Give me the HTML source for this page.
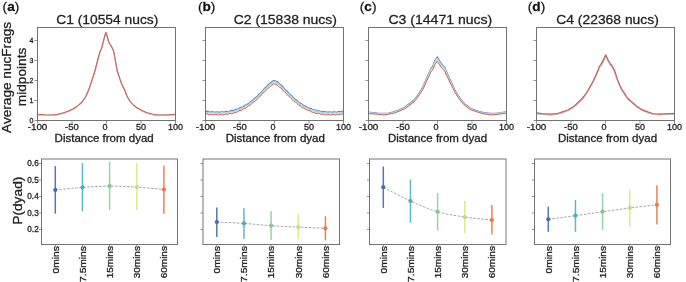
<!DOCTYPE html><html><head><meta charset="utf-8"><style>html,body{margin:0;padding:0;background:#fff;}svg{display:block;will-change:transform}text{stroke:#222;stroke-width:0.28px}</style></head><body>
<svg width="686" height="282" viewBox="0 0 686 282" font-family='"Liberation Sans", sans-serif'>
<rect width="686" height="282" fill="#fff"/>
<text x="2.6" y="10.9" font-size="13.6" fill="#111">(<tspan font-weight="bold">a</tspan>)</text>
<text x="198.0" y="10.9" font-size="13.6" fill="#111">(<tspan font-weight="bold">b</tspan>)</text>
<text x="359.8" y="10.9" font-size="13.6" fill="#111">(<tspan font-weight="bold">c</tspan>)</text>
<text x="527.8" y="10.9" font-size="13.6" fill="#111">(<tspan font-weight="bold">d</tspan>)</text>
<text x="56.3" y="24.1" font-size="12.9" fill="#222" textLength="102.0" lengthAdjust="spacingAndGlyphs">C1 (10554 nucs)</text>
<text x="233.7" y="24.1" font-size="12.9" fill="#222" textLength="103.3" lengthAdjust="spacingAndGlyphs">C2 (15838 nucs)</text>
<text x="388.4" y="24.1" font-size="12.9" fill="#222" textLength="103.9" lengthAdjust="spacingAndGlyphs">C3 (14471 nucs)</text>
<text x="556.3" y="24.1" font-size="12.9" fill="#222" textLength="102.5" lengthAdjust="spacingAndGlyphs">C4 (22368 nucs)</text>
<g fill="none" stroke-linejoin="round">
<polyline points="37.50,114.70 44.00,115.30 50.70,115.50 57.00,115.00 63.60,113.20 68.00,111.70 72.80,109.50 77.00,106.80 82.00,102.50 85.50,97.50 88.60,90.50 92.00,80.50 94.90,71.50 97.90,59.50 99.40,54.50 100.20,51.70 101.80,48.00 103.20,42.30 104.60,37.00 105.80,32.80 107.30,37.00 108.50,41.50 109.50,44.00 110.80,45.70 112.30,48.50 113.30,50.50 114.30,54.50 115.10,59.50 117.30,71.50 120.30,80.50 122.20,85.50 124.70,90.50 127.00,96.50 130.00,101.80 133.50,105.50 137.30,108.30 141.50,110.80 146.50,113.10 152.00,114.60 157.60,115.40 165.00,115.40 175.50,114.70" stroke="#6286c0" stroke-width="1.0"/>
<polyline points="37.50,114.50 44.00,115.10 50.70,115.30 57.00,114.80 63.60,113.00 68.00,111.50 72.80,109.30 77.00,106.60 82.00,102.30 85.50,97.30 88.60,90.30 92.00,80.30 94.90,71.30 97.90,59.30 99.40,54.30 100.20,51.50 101.80,47.80 103.20,42.10 104.60,36.80 105.80,32.60 107.30,36.80 108.50,41.30 109.50,43.80 110.80,45.50 112.30,48.30 113.30,50.30 114.30,54.30 115.10,59.30 117.30,71.30 120.30,80.30 122.20,85.30 124.70,90.30 127.00,96.30 130.00,101.60 133.50,105.30 137.30,108.10 141.50,110.60 146.50,112.90 152.00,114.40 157.60,115.20 165.00,115.20 175.50,114.50" stroke="#a0cce4" stroke-width="1.0"/>
<polyline points="37.50,114.70 44.00,115.30 50.70,115.50 57.00,115.00 63.60,113.20 68.00,111.70 72.80,109.50 77.00,106.80 82.00,102.50 85.50,97.50 88.60,90.50 92.00,80.50 94.90,71.50 97.90,59.50 99.40,54.50 100.20,51.70 101.80,48.00 103.20,42.30 104.60,37.00 105.80,32.80 107.30,37.00 108.50,41.50 109.50,44.00 110.80,45.70 112.30,48.50 113.30,50.50 114.30,54.50 115.10,59.50 117.30,71.50 120.30,80.50 122.20,85.50 124.70,90.50 127.00,96.50 130.00,101.80 133.50,105.50 137.30,108.30 141.50,110.80 146.50,113.10 152.00,114.60 157.60,115.40 165.00,115.40 175.50,114.70" stroke="#c0e0c4" stroke-width="1.0"/>
<polyline points="37.50,114.40 44.00,115.00 50.70,115.20 57.00,114.70 63.60,112.90 68.00,111.40 72.80,109.20 77.00,106.50 82.00,102.20 85.50,97.20 88.60,90.20 92.00,80.20 94.90,71.20 97.90,59.20 99.40,54.20 100.20,51.40 101.80,47.70 103.20,42.00 104.60,36.70 105.80,32.50 107.30,36.70 108.50,41.20 109.50,43.70 110.80,45.40 112.30,48.20 113.30,50.20 114.30,54.20 115.10,59.20 117.30,71.20 120.30,80.20 122.20,85.20 124.70,90.20 127.00,96.20 130.00,101.50 133.50,105.20 137.30,108.00 141.50,110.50 146.50,112.80 152.00,114.30 157.60,115.10 165.00,115.10 175.50,114.40" stroke="#f0e0a8" stroke-width="1.0"/>
<polyline points="37.50,114.20 44.00,114.80 50.70,115.00 57.00,114.50 63.60,112.70 68.00,111.20 72.80,109.00 77.00,106.30 82.00,102.00 85.50,97.00 88.60,90.00 92.00,80.00 94.90,71.00 97.90,59.00 99.40,54.00 100.20,51.20 101.80,47.50 103.20,41.80 104.60,36.50 105.80,32.30 107.30,36.50 108.50,41.00 109.50,43.50 110.80,45.20 112.30,48.00 113.30,50.00 114.30,54.00 115.10,59.00 117.30,71.00 120.30,80.00 122.20,85.00 124.70,90.00 127.00,96.00 130.00,101.30 133.50,105.00 137.30,107.80 141.50,110.30 146.50,112.60 152.00,114.10 157.60,114.90 165.00,114.90 175.50,114.20" stroke="#c86060" stroke-width="1.05"/>
</g>
<rect x="37.5" y="27.5" width="138.00" height="93.00" fill="none" stroke="#727272" stroke-width="1"/>
<line x1="34.5" y1="120.5" x2="37.5" y2="120.5" stroke="#727272" stroke-width="0.8"/>
<text x="33.5" y="122.9" font-size="7" text-anchor="end" fill="#222">0</text>
<line x1="34.5" y1="100.5" x2="37.5" y2="100.5" stroke="#727272" stroke-width="0.8"/>
<text x="33.5" y="102.9" font-size="7" text-anchor="end" fill="#222">1</text>
<line x1="34.5" y1="80.5" x2="37.5" y2="80.5" stroke="#727272" stroke-width="0.8"/>
<text x="33.5" y="82.9" font-size="7" text-anchor="end" fill="#222">2</text>
<line x1="34.5" y1="60.5" x2="37.5" y2="60.5" stroke="#727272" stroke-width="0.8"/>
<text x="33.5" y="62.9" font-size="7" text-anchor="end" fill="#222">3</text>
<line x1="34.5" y1="40.5" x2="37.5" y2="40.5" stroke="#727272" stroke-width="0.8"/>
<text x="33.5" y="42.9" font-size="7" text-anchor="end" fill="#222">4</text>
<line x1="37.5" y1="120.5" x2="37.5" y2="123.5" stroke="#727272" stroke-width="0.8"/>
<text x="37.5" y="130.1" font-size="9" text-anchor="middle" fill="#222" textLength="19.7" lengthAdjust="spacingAndGlyphs">-100</text>
<line x1="72.0" y1="120.5" x2="72.0" y2="123.5" stroke="#727272" stroke-width="0.8"/>
<text x="72.0" y="130.1" font-size="9" text-anchor="middle" fill="#222" textLength="13.8" lengthAdjust="spacingAndGlyphs">-50</text>
<line x1="106.5" y1="120.5" x2="106.5" y2="123.5" stroke="#727272" stroke-width="0.8"/>
<text x="105.0" y="130.1" font-size="9" text-anchor="middle" fill="#222">0</text>
<line x1="141.0" y1="120.5" x2="141.0" y2="123.5" stroke="#727272" stroke-width="0.8"/>
<text x="141.0" y="130.1" font-size="9" text-anchor="middle" fill="#222">50</text>
<line x1="175.5" y1="120.5" x2="175.5" y2="123.5" stroke="#727272" stroke-width="0.8"/>
<text x="175.5" y="130.1" font-size="9" text-anchor="middle" fill="#222">100</text>
<text x="54.6" y="141.7" font-size="10.3" fill="#222" textLength="99.2" lengthAdjust="spacingAndGlyphs">Distance from dyad</text>
<g fill="none" stroke-linejoin="round">
<polyline points="205.50,111.54 207.22,111.12 208.95,111.59 210.68,111.95 212.40,111.49 214.12,112.17 215.85,112.03 217.57,111.75 219.30,112.37 221.03,111.78 222.75,111.81 224.47,112.07 226.20,111.25 227.93,111.48 229.65,111.19 231.38,110.36 233.10,110.58 234.82,109.69 236.55,109.03 238.28,108.94 240.00,107.62 241.72,107.15 243.45,106.48 245.18,104.94 246.90,104.48 248.62,103.11 250.35,101.57 252.07,100.84 253.80,98.85 255.53,97.43 257.25,96.19 258.98,93.85 260.70,92.57 262.43,90.76 264.15,88.49 265.88,87.33 267.60,85.19 269.32,83.48 271.05,82.56 272.77,80.77 274.50,80.44 276.23,81.28 277.95,81.87 279.68,83.91 281.40,85.30 283.12,86.75 284.85,89.16 286.57,90.43 288.30,92.35 290.02,94.49 291.75,95.55 293.48,97.66 295.20,99.17 296.93,100.17 298.65,102.16 300.38,102.99 302.10,104.06 303.82,105.64 305.55,105.96 307.27,107.16 309.00,108.12 310.73,108.25 312.45,109.47 314.18,109.79 315.90,110.00 317.62,111.04 319.35,110.84 321.07,111.27 322.80,111.88 324.52,111.42 326.25,112.05 327.98,112.10 329.70,111.70 331.43,112.34 333.15,111.89 334.88,111.76 336.60,112.18 338.33,111.43 340.05,111.62 341.77,111.61 343.50,110.84" stroke="#6286c0" stroke-width="1.1"/>
<polyline points="205.50,112.34 207.22,112.77 208.95,112.40 210.68,113.50 212.40,112.85 214.12,113.07 215.85,113.35 217.57,112.83 219.30,113.32 221.03,113.40 222.75,112.93 224.47,113.21 226.20,112.79 227.93,112.08 229.65,112.67 231.38,111.52 233.10,111.73 234.82,111.23 236.55,110.25 238.28,109.85 240.00,109.16 241.72,107.95 243.45,107.92 245.18,106.52 246.90,105.45 248.62,104.75 250.35,102.62 252.07,101.92 253.80,100.38 255.53,98.73 257.25,97.50 258.98,95.71 260.70,93.41 262.43,92.39 264.15,89.77 265.88,88.54 267.60,87.04 269.32,84.92 271.05,83.96 272.77,82.50 274.50,81.55 276.23,82.72 277.95,83.68 279.68,85.00 281.40,87.30 283.12,87.99 284.85,90.41 286.57,91.94 288.30,93.56 290.02,95.80 291.75,97.38 293.48,98.65 295.20,100.72 296.93,101.43 298.65,103.00 300.38,104.68 302.10,105.16 303.82,107.01 305.55,107.48 307.27,108.16 309.00,109.21 310.73,109.72 312.45,110.22 314.18,111.55 315.90,111.16 317.62,112.13 319.35,112.28 321.07,112.12 322.80,113.02 324.52,112.91 326.25,113.06 327.98,113.52 329.70,113.06 331.43,113.00 333.15,113.48 334.88,112.61 336.60,113.49 338.33,112.94 340.05,112.68 341.77,112.79 343.50,112.19" stroke="#a0cce4" stroke-width="1.1"/>
<polyline points="205.50,112.75 207.22,113.51 208.95,112.80 210.68,113.63 212.40,113.71 214.12,113.61 215.85,113.96 217.57,113.90 219.30,113.31 221.03,114.08 222.75,113.32 224.47,113.60 226.20,113.73 227.93,112.82 229.65,113.00 231.38,112.38 233.10,111.74 234.82,111.78 236.55,111.13 238.28,110.22 240.00,110.24 241.72,108.43 243.45,108.18 245.18,107.15 246.90,105.90 248.62,105.28 250.35,103.87 252.07,102.15 253.80,101.23 255.53,99.17 257.25,97.71 258.98,96.64 260.70,94.11 262.43,93.08 264.15,90.82 265.88,88.86 267.60,87.49 269.32,85.81 271.05,84.21 272.77,83.80 274.50,82.27 276.23,83.32 277.95,84.45 279.68,85.37 281.40,87.75 283.12,89.14 284.85,90.86 286.57,92.94 288.30,94.28 290.02,95.89 291.75,98.24 293.48,99.03 295.20,101.43 296.93,102.47 298.65,103.53 300.38,105.12 302.10,105.91 303.82,106.95 305.55,108.49 307.27,108.80 309.00,109.79 310.73,110.65 312.45,110.44 314.18,111.88 315.90,111.88 317.62,112.48 319.35,113.14 321.07,113.05 322.80,113.12 324.52,113.78 326.25,113.16 327.98,114.02 329.70,113.96 331.43,113.57 333.15,114.13 334.88,113.39 336.60,113.44 338.33,113.65 340.05,113.22 341.77,113.22 343.50,113.38" stroke="#c0e0c4" stroke-width="0.8"/>
<polyline points="205.50,113.27 207.22,113.95 208.95,113.89 210.68,113.63 212.40,114.26 214.12,113.99 215.85,114.09 217.57,114.81 219.30,113.89 221.03,114.51 222.75,114.03 224.47,113.70 226.20,113.96 227.93,113.69 229.65,113.14 231.38,113.45 233.10,112.19 234.82,111.99 236.55,111.66 238.28,110.49 240.00,110.62 241.72,109.48 243.45,108.49 245.18,107.80 246.90,106.45 248.62,105.18 250.35,104.73 252.07,102.57 253.80,101.89 255.53,100.06 257.25,98.07 258.98,96.89 260.70,94.87 262.43,93.13 264.15,91.88 265.88,89.59 267.60,87.92 269.32,86.65 271.05,84.39 272.77,84.21 274.50,83.14 276.23,83.84 277.95,85.26 279.68,86.28 281.40,87.71 283.12,89.98 284.85,91.09 286.57,93.51 288.30,95.27 290.02,96.40 291.75,98.73 293.48,99.68 295.20,101.39 296.93,103.18 298.65,104.24 300.38,105.48 302.10,106.99 303.82,107.07 305.55,108.85 307.27,109.31 309.00,110.08 310.73,111.32 312.45,111.40 314.18,111.98 315.90,112.68 317.62,112.59 319.35,113.35 321.07,113.93 322.80,113.48 324.52,114.52 326.25,113.82 327.98,114.07 329.70,114.38 331.43,114.12 333.15,114.29 334.88,114.58 336.60,113.71 338.33,114.15 340.05,113.72 341.77,113.28 343.50,113.92" stroke="#f0e0a8" stroke-width="0.8"/>
<polyline points="205.50,113.90 207.22,113.93 208.95,114.92 210.68,114.21 212.40,114.89 214.12,114.78 215.85,114.37 217.57,115.03 219.30,114.76 221.03,114.72 222.75,115.06 224.47,114.44 226.20,114.17 227.93,114.44 229.65,113.32 231.38,113.94 233.10,113.14 234.82,112.55 236.55,112.29 238.28,111.30 240.00,110.50 241.72,110.36 243.45,108.93 245.18,108.45 246.90,107.50 248.62,105.62 250.35,105.15 252.07,103.27 253.80,102.06 255.53,100.93 257.25,99.04 258.98,97.27 260.70,95.98 262.43,93.32 264.15,92.37 265.88,90.40 267.60,88.54 269.32,87.52 271.05,85.49 272.77,84.39 274.50,84.02 276.23,84.28 277.95,85.73 279.68,87.51 281.40,88.27 283.12,90.79 284.85,91.81 286.57,93.72 288.30,95.88 290.02,97.30 291.75,99.10 293.48,100.97 295.20,101.72 296.93,103.62 298.65,104.89 300.38,105.74 302.10,107.77 303.82,108.05 305.55,109.23 307.27,110.11 309.00,110.50 310.73,111.39 312.45,112.43 314.18,112.29 315.90,113.59 317.62,113.37 319.35,113.60 321.07,114.39 322.80,114.07 324.52,114.71 326.25,114.98 327.98,114.60 329.70,114.88 331.43,114.90 333.15,114.27 334.88,115.23 336.60,114.42 338.33,114.67 340.05,114.61 341.77,113.90 343.50,113.95" stroke="#c86060" stroke-width="1.0"/>
</g>
<rect x="205.5" y="27.5" width="138.00" height="93.00" fill="none" stroke="#727272" stroke-width="1"/>
<line x1="202.5" y1="120.5" x2="205.5" y2="120.5" stroke="#727272" stroke-width="0.8"/>
<line x1="202.5" y1="100.5" x2="205.5" y2="100.5" stroke="#727272" stroke-width="0.8"/>
<line x1="202.5" y1="80.5" x2="205.5" y2="80.5" stroke="#727272" stroke-width="0.8"/>
<line x1="202.5" y1="60.5" x2="205.5" y2="60.5" stroke="#727272" stroke-width="0.8"/>
<line x1="202.5" y1="40.5" x2="205.5" y2="40.5" stroke="#727272" stroke-width="0.8"/>
<line x1="205.5" y1="120.5" x2="205.5" y2="123.5" stroke="#727272" stroke-width="0.8"/>
<text x="205.5" y="130.1" font-size="9" text-anchor="middle" fill="#222" textLength="19.7" lengthAdjust="spacingAndGlyphs">-100</text>
<line x1="240.0" y1="120.5" x2="240.0" y2="123.5" stroke="#727272" stroke-width="0.8"/>
<text x="240.0" y="130.1" font-size="9" text-anchor="middle" fill="#222" textLength="13.8" lengthAdjust="spacingAndGlyphs">-50</text>
<line x1="274.5" y1="120.5" x2="274.5" y2="123.5" stroke="#727272" stroke-width="0.8"/>
<text x="273.0" y="130.1" font-size="9" text-anchor="middle" fill="#222">0</text>
<line x1="309.0" y1="120.5" x2="309.0" y2="123.5" stroke="#727272" stroke-width="0.8"/>
<text x="309.0" y="130.1" font-size="9" text-anchor="middle" fill="#222">50</text>
<line x1="343.5" y1="120.5" x2="343.5" y2="123.5" stroke="#727272" stroke-width="0.8"/>
<text x="343.5" y="130.1" font-size="9" text-anchor="middle" fill="#222">100</text>
<text x="225.7" y="141.7" font-size="10.3" fill="#222" textLength="99.2" lengthAdjust="spacingAndGlyphs">Distance from dyad</text>
<g fill="none" stroke-linejoin="round">
<polyline points="368.50,112.10 377.40,113.00 383.00,113.30 388.70,113.00 394.40,111.60 400.00,109.50 405.70,106.50 411.00,102.30 414.00,100.00 417.80,95.00 421.00,90.00 423.60,85.00 425.70,80.00 427.90,75.00 430.00,70.50 431.20,67.60 432.40,66.80 433.40,64.50 434.80,60.50 437.30,56.80 439.50,60.50 441.50,63.80 443.00,65.60 444.80,67.30 445.80,70.00 448.10,75.00 450.30,80.00 452.80,85.00 455.00,90.00 458.00,95.00 461.50,100.00 465.50,104.50 470.20,108.00 477.00,110.70 483.70,112.60 490.50,113.40 497.20,113.00 506.50,111.70" stroke="#6286c0" stroke-width="1.1"/>
<polyline points="368.50,112.45 377.40,113.50 383.00,113.63 388.70,113.57 394.40,111.81 400.00,109.91 405.70,106.91 411.00,103.01 414.00,100.64 417.80,95.81 421.00,90.79 423.60,85.74 425.70,81.08 427.90,75.92 430.00,71.52 431.20,68.55 432.40,67.87 433.40,65.75 434.80,61.40 437.30,58.08 439.50,61.81 441.50,64.89 443.00,66.61 444.80,68.22 445.80,70.98 448.10,76.09 450.30,80.86 452.80,85.53 455.00,90.74 458.00,95.82 461.50,100.59 465.50,105.08 470.20,108.66 477.00,111.15 483.70,112.98 490.50,113.76 497.20,113.14 506.50,112.34" stroke="#a0cce4" stroke-width="1.0"/>
<polyline points="368.50,112.89 377.40,113.66 383.00,113.87 388.70,113.78 394.40,112.49 400.00,110.25 405.70,107.35 411.00,103.35 414.00,101.13 417.80,96.21 421.00,91.60 423.60,86.34 425.70,81.54 427.90,76.74 430.00,72.17 431.20,69.66 432.40,68.94 433.40,66.53 434.80,62.76 437.30,59.06 439.50,62.86 441.50,65.78 443.00,67.90 444.80,69.24 445.80,71.80 448.10,76.61 450.30,81.65 452.80,86.40 455.00,91.51 458.00,96.29 461.50,101.31 465.50,105.71 470.20,108.72 477.00,111.56 483.70,113.57 490.50,114.03 497.20,113.54 506.50,112.53" stroke="#c0e0c4" stroke-width="0.8"/>
<polyline points="368.50,113.13 377.40,114.00 383.00,114.30 388.70,113.74 394.40,112.74 400.00,110.58 405.70,107.96 411.00,103.44 414.00,101.62 417.80,96.73 421.00,91.88 423.60,87.13 425.70,82.15 427.90,77.68 430.00,73.10 431.20,70.38 432.40,69.75 433.40,67.13 434.80,63.67 437.30,59.74 439.50,63.53 441.50,66.54 443.00,68.56 444.80,70.01 445.80,72.69 448.10,77.36 450.30,82.50 452.80,87.17 455.00,91.85 458.00,96.72 461.50,101.52 465.50,105.80 470.20,108.99 477.00,111.85 483.70,113.64 490.50,114.47 497.20,114.10 506.50,112.61" stroke="#f0e0a8" stroke-width="0.8"/>
<polyline points="368.50,113.65 377.40,114.18 383.00,114.86 388.70,114.21 394.40,113.02 400.00,110.80 405.70,108.29 411.00,104.09 414.00,101.86 417.80,97.20 421.00,92.48 423.60,88.07 425.70,83.04 427.90,78.49 430.00,74.10 431.20,71.48 432.40,70.38 433.40,68.37 434.80,64.64 437.30,61.08 439.50,64.64 441.50,67.88 443.00,69.33 444.80,70.91 445.80,73.87 448.10,78.32 450.30,83.14 452.80,87.81 455.00,92.26 458.00,97.34 461.50,101.98 465.50,106.14 470.20,109.58 477.00,111.91 483.70,113.87 490.50,114.93 497.20,114.38 506.50,113.05" stroke="#c86060" stroke-width="1.0"/>
</g>
<rect x="368.5" y="27.5" width="138.00" height="93.00" fill="none" stroke="#727272" stroke-width="1"/>
<line x1="365.5" y1="120.5" x2="368.5" y2="120.5" stroke="#727272" stroke-width="0.8"/>
<line x1="365.5" y1="100.5" x2="368.5" y2="100.5" stroke="#727272" stroke-width="0.8"/>
<line x1="365.5" y1="80.5" x2="368.5" y2="80.5" stroke="#727272" stroke-width="0.8"/>
<line x1="365.5" y1="60.5" x2="368.5" y2="60.5" stroke="#727272" stroke-width="0.8"/>
<line x1="365.5" y1="40.5" x2="368.5" y2="40.5" stroke="#727272" stroke-width="0.8"/>
<line x1="368.5" y1="120.5" x2="368.5" y2="123.5" stroke="#727272" stroke-width="0.8"/>
<text x="368.5" y="130.1" font-size="9" text-anchor="middle" fill="#222" textLength="19.7" lengthAdjust="spacingAndGlyphs">-100</text>
<line x1="403.0" y1="120.5" x2="403.0" y2="123.5" stroke="#727272" stroke-width="0.8"/>
<text x="403.0" y="130.1" font-size="9" text-anchor="middle" fill="#222" textLength="13.8" lengthAdjust="spacingAndGlyphs">-50</text>
<line x1="437.5" y1="120.5" x2="437.5" y2="123.5" stroke="#727272" stroke-width="0.8"/>
<text x="436.0" y="130.1" font-size="9" text-anchor="middle" fill="#222">0</text>
<line x1="472.0" y1="120.5" x2="472.0" y2="123.5" stroke="#727272" stroke-width="0.8"/>
<text x="472.0" y="130.1" font-size="9" text-anchor="middle" fill="#222">50</text>
<line x1="506.5" y1="120.5" x2="506.5" y2="123.5" stroke="#727272" stroke-width="0.8"/>
<text x="506.5" y="130.1" font-size="9" text-anchor="middle" fill="#222">100</text>
<text x="387.9" y="141.7" font-size="10.3" fill="#222" textLength="99.2" lengthAdjust="spacingAndGlyphs">Distance from dyad</text>
<g fill="none" stroke-linejoin="round">
<polyline points="536.50,113.65 545.40,114.44 551.00,114.83 556.70,114.24 562.40,112.77 568.00,110.61 573.70,107.28 577.00,104.34 580.50,101.40 584.00,97.28 588.00,91.40 593.60,81.30 598.00,71.50 599.40,67.78 600.80,66.21 603.40,61.70 605.70,56.60 608.30,61.70 610.30,65.23 611.80,66.80 614.40,71.50 617.70,81.30 620.00,86.70 622.50,91.40 625.00,95.32 628.00,99.44 630.70,101.69 636.40,106.69 642.00,110.22 647.70,112.77 653.40,114.44 659.00,114.73 664.70,114.44 674.50,113.95" stroke="#6286c0" stroke-width="1.0"/>
<polyline points="536.50,113.66 545.40,114.21 551.00,114.95 556.70,113.94 562.40,112.64 568.00,110.29 573.70,107.30 577.00,104.30 580.50,101.23 584.00,97.23 588.00,91.36 593.60,80.98 598.00,71.22 599.40,67.59 600.80,65.58 603.40,61.41 605.70,56.34 608.30,61.21 610.30,65.06 611.80,66.41 614.40,71.30 617.70,81.22 620.00,86.47 622.50,91.12 625.00,95.14 628.00,99.40 630.70,101.36 636.40,106.75 642.00,110.00 647.70,112.63 653.40,114.13 659.00,114.66 664.70,114.42 674.50,113.75" stroke="#a0cce4" stroke-width="1.0"/>
<polyline points="536.50,113.49 545.40,113.94 551.00,114.65 556.70,114.02 562.40,112.57 568.00,110.21 573.70,106.79 577.00,104.14 580.50,101.14 584.00,96.86 588.00,90.87 593.60,80.65 598.00,70.83 599.40,67.17 600.80,65.43 603.40,60.97 605.70,55.96 608.30,60.74 610.30,64.44 611.80,65.97 614.40,70.67 617.70,80.85 620.00,86.20 622.50,90.64 625.00,94.94 628.00,99.19 630.70,101.15 636.40,106.25 642.00,110.00 647.70,112.53 653.40,114.25 659.00,114.23 664.70,114.22 674.50,113.58" stroke="#c0e0c4" stroke-width="1.0"/>
<polyline points="536.50,112.97 545.40,114.05 551.00,114.21 556.70,113.78 562.40,112.22 568.00,110.34 573.70,106.58 577.00,103.56 580.50,100.80 584.00,96.65 588.00,90.59 593.60,80.33 598.00,70.56 599.40,66.40 600.80,65.16 603.40,60.22 605.70,55.30 608.30,60.58 610.30,64.01 611.80,65.54 614.40,70.33 617.70,80.15 620.00,85.88 622.50,90.58 625.00,94.62 628.00,98.74 630.70,101.24 636.40,105.95 642.00,109.72 647.70,112.13 653.40,114.23 659.00,114.19 664.70,114.04 674.50,113.33" stroke="#f0e0a8" stroke-width="1.0"/>
<polyline points="536.50,112.83 545.40,114.03 551.00,114.14 556.70,113.70 562.40,111.84 568.00,110.03 573.70,106.49 577.00,103.32 580.50,100.25 584.00,96.25 588.00,90.23 593.60,80.24 598.00,70.17 599.40,66.07 600.80,64.63 603.40,59.89 605.70,54.86 608.30,60.22 610.30,63.53 611.80,65.41 614.40,69.96 617.70,79.88 620.00,85.70 622.50,90.43 625.00,94.06 628.00,98.53 630.70,100.99 636.40,105.89 642.00,109.65 647.70,111.89 653.40,113.77 659.00,114.11 664.70,113.94 674.50,113.45" stroke="#c86060" stroke-width="1.2"/>
</g>
<rect x="536.5" y="27.5" width="138.00" height="93.00" fill="none" stroke="#727272" stroke-width="1"/>
<line x1="533.5" y1="120.5" x2="536.5" y2="120.5" stroke="#727272" stroke-width="0.8"/>
<line x1="533.5" y1="100.5" x2="536.5" y2="100.5" stroke="#727272" stroke-width="0.8"/>
<line x1="533.5" y1="80.5" x2="536.5" y2="80.5" stroke="#727272" stroke-width="0.8"/>
<line x1="533.5" y1="60.5" x2="536.5" y2="60.5" stroke="#727272" stroke-width="0.8"/>
<line x1="533.5" y1="40.5" x2="536.5" y2="40.5" stroke="#727272" stroke-width="0.8"/>
<line x1="536.5" y1="120.5" x2="536.5" y2="123.5" stroke="#727272" stroke-width="0.8"/>
<text x="536.5" y="130.1" font-size="9" text-anchor="middle" fill="#222" textLength="19.7" lengthAdjust="spacingAndGlyphs">-100</text>
<line x1="571.0" y1="120.5" x2="571.0" y2="123.5" stroke="#727272" stroke-width="0.8"/>
<text x="571.0" y="130.1" font-size="9" text-anchor="middle" fill="#222" textLength="13.8" lengthAdjust="spacingAndGlyphs">-50</text>
<line x1="605.5" y1="120.5" x2="605.5" y2="123.5" stroke="#727272" stroke-width="0.8"/>
<text x="604.0" y="130.1" font-size="9" text-anchor="middle" fill="#222">0</text>
<line x1="640.0" y1="120.5" x2="640.0" y2="123.5" stroke="#727272" stroke-width="0.8"/>
<text x="640.0" y="130.1" font-size="9" text-anchor="middle" fill="#222">50</text>
<line x1="674.5" y1="120.5" x2="674.5" y2="123.5" stroke="#727272" stroke-width="0.8"/>
<text x="674.5" y="130.1" font-size="9" text-anchor="middle" fill="#222">100</text>
<text x="557.9" y="141.7" font-size="10.3" fill="#222" textLength="99.2" lengthAdjust="spacingAndGlyphs">Distance from dyad</text>
<text transform="translate(11,132.9) rotate(-90)" font-size="13.2" fill="#222" textLength="111" lengthAdjust="spacingAndGlyphs">Average nucFrags</text>
<text transform="translate(26.1,106.2) rotate(-90)" font-size="13.2" fill="#222" textLength="58.5" lengthAdjust="spacingAndGlyphs">midpoints</text>
<text transform="translate(22.3,224.8) rotate(-90)" font-size="13.2" fill="#222" textLength="48.2" lengthAdjust="spacingAndGlyphs">P(dyad)</text>
<path d="M55.30,189.90 C64.35,189.07 73.40,188.03 82.45,187.40 C91.50,186.77 100.55,186.15 109.60,186.10 C118.65,186.05 127.70,186.53 136.75,187.10 C145.80,187.67 154.85,188.70 163.90,189.50" fill="none" stroke="#8a8888" stroke-width="0.75" stroke-dasharray="2.6,1.4"/>
<line x1="55.30" y1="166.1" x2="55.30" y2="213.7" stroke="#5478b4" stroke-width="1.5"/>
<circle cx="55.30" cy="189.9" r="2.1" fill="#4a6cb0"/>
<line x1="82.45" y1="163.1" x2="82.45" y2="211.2" stroke="#5cb8c8" stroke-width="1.5"/>
<circle cx="82.45" cy="187.4" r="2.1" fill="#50aabb"/>
<line x1="109.60" y1="161.8" x2="109.60" y2="210.1" stroke="#98d4a0" stroke-width="1.5"/>
<circle cx="109.60" cy="186.1" r="2.1" fill="#88c498"/>
<line x1="136.75" y1="163.3" x2="136.75" y2="210.1" stroke="#dde890" stroke-width="1.5"/>
<circle cx="136.75" cy="187.1" r="2.1" fill="#c8d880"/>
<line x1="163.90" y1="165.4" x2="163.90" y2="213.7" stroke="#ee8050" stroke-width="1.5"/>
<circle cx="163.90" cy="189.5" r="2.1" fill="#e87848"/>
<rect x="41.5" y="159.0" width="136.00" height="85.50" fill="none" stroke="#747474" stroke-width="1.0"/>
<line x1="39.0" y1="229.50" x2="41.5" y2="229.50" stroke="#727272" stroke-width="0.8"/>
<text x="38.7" y="232.40" font-size="8.2" text-anchor="end" fill="#222">0.2</text>
<line x1="39.0" y1="213.00" x2="41.5" y2="213.00" stroke="#727272" stroke-width="0.8"/>
<text x="38.7" y="215.90" font-size="8.2" text-anchor="end" fill="#222">0.3</text>
<line x1="39.0" y1="196.50" x2="41.5" y2="196.50" stroke="#727272" stroke-width="0.8"/>
<text x="38.7" y="199.40" font-size="8.2" text-anchor="end" fill="#222">0.4</text>
<line x1="39.0" y1="180.00" x2="41.5" y2="180.00" stroke="#727272" stroke-width="0.8"/>
<text x="38.7" y="182.90" font-size="8.2" text-anchor="end" fill="#222">0.5</text>
<line x1="39.0" y1="163.50" x2="41.5" y2="163.50" stroke="#727272" stroke-width="0.8"/>
<text x="38.7" y="166.40" font-size="8.2" text-anchor="end" fill="#222">0.6</text>
<line x1="55.30" y1="244.5" x2="55.30" y2="247.0" stroke="#727272" stroke-width="0.8"/>
<text transform="translate(58.60,246.1) rotate(-90)" font-size="9" text-anchor="end" fill="#222" textLength="27.3" lengthAdjust="spacingAndGlyphs">0mins</text>
<line x1="82.45" y1="244.5" x2="82.45" y2="247.0" stroke="#727272" stroke-width="0.8"/>
<text transform="translate(85.75,246.1) rotate(-90)" font-size="9" text-anchor="end" fill="#222" textLength="35.8" lengthAdjust="spacingAndGlyphs">7.5mins</text>
<line x1="109.60" y1="244.5" x2="109.60" y2="247.0" stroke="#727272" stroke-width="0.8"/>
<text transform="translate(112.90,246.1) rotate(-90)" font-size="9" text-anchor="end" fill="#222" textLength="32.2" lengthAdjust="spacingAndGlyphs">15mins</text>
<line x1="136.75" y1="244.5" x2="136.75" y2="247.0" stroke="#727272" stroke-width="0.8"/>
<text transform="translate(140.05,246.1) rotate(-90)" font-size="9" text-anchor="end" fill="#222" textLength="32.2" lengthAdjust="spacingAndGlyphs">30mins</text>
<line x1="163.90" y1="244.5" x2="163.90" y2="247.0" stroke="#727272" stroke-width="0.8"/>
<text transform="translate(167.20,246.1) rotate(-90)" font-size="9" text-anchor="end" fill="#222" textLength="32.2" lengthAdjust="spacingAndGlyphs">60mins</text>
<path d="M216.80,222.10 C225.85,222.53 234.90,222.80 243.95,223.40 C253.00,224.00 262.05,225.08 271.10,225.70 C280.15,226.32 289.20,226.67 298.25,227.10 C307.30,227.53 316.35,227.90 325.40,228.30" fill="none" stroke="#8a8888" stroke-width="0.75" stroke-dasharray="2.6,1.4"/>
<line x1="216.80" y1="207.4" x2="216.80" y2="237.0" stroke="#5478b4" stroke-width="1.5"/>
<circle cx="216.80" cy="222.1" r="2.1" fill="#4a6cb0"/>
<line x1="243.95" y1="208.3" x2="243.95" y2="238.8" stroke="#5cb8c8" stroke-width="1.5"/>
<circle cx="243.95" cy="223.4" r="2.1" fill="#50aabb"/>
<line x1="271.10" y1="211.3" x2="271.10" y2="239.9" stroke="#98d4a0" stroke-width="1.5"/>
<circle cx="271.10" cy="225.7" r="2.1" fill="#88c498"/>
<line x1="298.25" y1="213.6" x2="298.25" y2="239.3" stroke="#dde890" stroke-width="1.5"/>
<circle cx="298.25" cy="227.1" r="2.1" fill="#c8d880"/>
<line x1="325.40" y1="216.3" x2="325.40" y2="240.2" stroke="#ee8050" stroke-width="1.5"/>
<circle cx="325.40" cy="228.3" r="2.1" fill="#e87848"/>
<rect x="203.0" y="159.0" width="136.50" height="85.50" fill="none" stroke="#747474" stroke-width="1.0"/>
<line x1="200.5" y1="229.50" x2="203.0" y2="229.50" stroke="#727272" stroke-width="0.8"/>
<line x1="200.5" y1="213.00" x2="203.0" y2="213.00" stroke="#727272" stroke-width="0.8"/>
<line x1="200.5" y1="196.50" x2="203.0" y2="196.50" stroke="#727272" stroke-width="0.8"/>
<line x1="200.5" y1="180.00" x2="203.0" y2="180.00" stroke="#727272" stroke-width="0.8"/>
<line x1="200.5" y1="163.50" x2="203.0" y2="163.50" stroke="#727272" stroke-width="0.8"/>
<line x1="216.80" y1="244.5" x2="216.80" y2="247.0" stroke="#727272" stroke-width="0.8"/>
<text transform="translate(220.10,246.1) rotate(-90)" font-size="9" text-anchor="end" fill="#222" textLength="27.3" lengthAdjust="spacingAndGlyphs">0mins</text>
<line x1="243.95" y1="244.5" x2="243.95" y2="247.0" stroke="#727272" stroke-width="0.8"/>
<text transform="translate(247.25,246.1) rotate(-90)" font-size="9" text-anchor="end" fill="#222" textLength="35.8" lengthAdjust="spacingAndGlyphs">7.5mins</text>
<line x1="271.10" y1="244.5" x2="271.10" y2="247.0" stroke="#727272" stroke-width="0.8"/>
<text transform="translate(274.40,246.1) rotate(-90)" font-size="9" text-anchor="end" fill="#222" textLength="32.2" lengthAdjust="spacingAndGlyphs">15mins</text>
<line x1="298.25" y1="244.5" x2="298.25" y2="247.0" stroke="#727272" stroke-width="0.8"/>
<text transform="translate(301.55,246.1) rotate(-90)" font-size="9" text-anchor="end" fill="#222" textLength="32.2" lengthAdjust="spacingAndGlyphs">30mins</text>
<line x1="325.40" y1="244.5" x2="325.40" y2="247.0" stroke="#727272" stroke-width="0.8"/>
<text transform="translate(328.70,246.1) rotate(-90)" font-size="9" text-anchor="end" fill="#222" textLength="32.2" lengthAdjust="spacingAndGlyphs">60mins</text>
<path d="M383.30,187.20 C392.35,191.80 401.40,196.90 410.45,201.00 C419.50,205.10 428.55,209.13 437.60,211.80 C446.65,214.47 455.70,215.63 464.75,217.00 C473.80,218.37 482.85,219.00 491.90,220.00" fill="none" stroke="#8a8888" stroke-width="0.75" stroke-dasharray="2.6,1.4"/>
<line x1="383.30" y1="166.5" x2="383.30" y2="207.9" stroke="#5478b4" stroke-width="1.5"/>
<circle cx="383.30" cy="187.2" r="2.1" fill="#4a6cb0"/>
<line x1="410.45" y1="179.6" x2="410.45" y2="222.7" stroke="#5cb8c8" stroke-width="1.5"/>
<circle cx="410.45" cy="201.0" r="2.1" fill="#50aabb"/>
<line x1="437.60" y1="193.2" x2="437.60" y2="230.5" stroke="#98d4a0" stroke-width="1.5"/>
<circle cx="437.60" cy="211.8" r="2.1" fill="#88c498"/>
<line x1="464.75" y1="201.1" x2="464.75" y2="233.0" stroke="#dde890" stroke-width="1.5"/>
<circle cx="464.75" cy="217.0" r="2.1" fill="#c8d880"/>
<line x1="491.90" y1="205.0" x2="491.90" y2="234.5" stroke="#ee8050" stroke-width="1.5"/>
<circle cx="491.90" cy="220.0" r="2.1" fill="#e87848"/>
<rect x="369.5" y="159.0" width="136.50" height="85.50" fill="none" stroke="#747474" stroke-width="1.0"/>
<line x1="367.0" y1="229.50" x2="369.5" y2="229.50" stroke="#727272" stroke-width="0.8"/>
<line x1="367.0" y1="213.00" x2="369.5" y2="213.00" stroke="#727272" stroke-width="0.8"/>
<line x1="367.0" y1="196.50" x2="369.5" y2="196.50" stroke="#727272" stroke-width="0.8"/>
<line x1="367.0" y1="180.00" x2="369.5" y2="180.00" stroke="#727272" stroke-width="0.8"/>
<line x1="367.0" y1="163.50" x2="369.5" y2="163.50" stroke="#727272" stroke-width="0.8"/>
<line x1="383.30" y1="244.5" x2="383.30" y2="247.0" stroke="#727272" stroke-width="0.8"/>
<text transform="translate(386.60,246.1) rotate(-90)" font-size="9" text-anchor="end" fill="#222" textLength="27.3" lengthAdjust="spacingAndGlyphs">0mins</text>
<line x1="410.45" y1="244.5" x2="410.45" y2="247.0" stroke="#727272" stroke-width="0.8"/>
<text transform="translate(413.75,246.1) rotate(-90)" font-size="9" text-anchor="end" fill="#222" textLength="35.8" lengthAdjust="spacingAndGlyphs">7.5mins</text>
<line x1="437.60" y1="244.5" x2="437.60" y2="247.0" stroke="#727272" stroke-width="0.8"/>
<text transform="translate(440.90,246.1) rotate(-90)" font-size="9" text-anchor="end" fill="#222" textLength="32.2" lengthAdjust="spacingAndGlyphs">15mins</text>
<line x1="464.75" y1="244.5" x2="464.75" y2="247.0" stroke="#727272" stroke-width="0.8"/>
<text transform="translate(468.05,246.1) rotate(-90)" font-size="9" text-anchor="end" fill="#222" textLength="32.2" lengthAdjust="spacingAndGlyphs">30mins</text>
<line x1="491.90" y1="244.5" x2="491.90" y2="247.0" stroke="#727272" stroke-width="0.8"/>
<text transform="translate(495.20,246.1) rotate(-90)" font-size="9" text-anchor="end" fill="#222" textLength="32.2" lengthAdjust="spacingAndGlyphs">60mins</text>
<path d="M548.30,219.30 C557.35,218.10 566.40,216.97 575.45,215.70 C584.50,214.43 593.55,212.98 602.60,211.70 C611.65,210.42 620.70,209.15 629.75,208.00 C638.80,206.85 647.85,205.87 656.90,204.80" fill="none" stroke="#8a8888" stroke-width="0.75" stroke-dasharray="2.6,1.4"/>
<line x1="548.30" y1="206.6" x2="548.30" y2="231.8" stroke="#5478b4" stroke-width="1.5"/>
<circle cx="548.30" cy="219.3" r="2.1" fill="#4a6cb0"/>
<line x1="575.45" y1="200.0" x2="575.45" y2="231.8" stroke="#5cb8c8" stroke-width="1.5"/>
<circle cx="575.45" cy="215.7" r="2.1" fill="#50aabb"/>
<line x1="602.60" y1="193.3" x2="602.60" y2="230.0" stroke="#98d4a0" stroke-width="1.5"/>
<circle cx="602.60" cy="211.7" r="2.1" fill="#88c498"/>
<line x1="629.75" y1="189.2" x2="629.75" y2="227.1" stroke="#dde890" stroke-width="1.5"/>
<circle cx="629.75" cy="208.0" r="2.1" fill="#c8d880"/>
<line x1="656.90" y1="185.3" x2="656.90" y2="224.4" stroke="#ee8050" stroke-width="1.5"/>
<circle cx="656.90" cy="204.8" r="2.1" fill="#e87848"/>
<rect x="534.5" y="159.0" width="136.00" height="85.50" fill="none" stroke="#747474" stroke-width="1.0"/>
<line x1="532.0" y1="229.50" x2="534.5" y2="229.50" stroke="#727272" stroke-width="0.8"/>
<line x1="532.0" y1="213.00" x2="534.5" y2="213.00" stroke="#727272" stroke-width="0.8"/>
<line x1="532.0" y1="196.50" x2="534.5" y2="196.50" stroke="#727272" stroke-width="0.8"/>
<line x1="532.0" y1="180.00" x2="534.5" y2="180.00" stroke="#727272" stroke-width="0.8"/>
<line x1="532.0" y1="163.50" x2="534.5" y2="163.50" stroke="#727272" stroke-width="0.8"/>
<line x1="548.30" y1="244.5" x2="548.30" y2="247.0" stroke="#727272" stroke-width="0.8"/>
<text transform="translate(551.60,246.1) rotate(-90)" font-size="9" text-anchor="end" fill="#222" textLength="27.3" lengthAdjust="spacingAndGlyphs">0mins</text>
<line x1="575.45" y1="244.5" x2="575.45" y2="247.0" stroke="#727272" stroke-width="0.8"/>
<text transform="translate(578.75,246.1) rotate(-90)" font-size="9" text-anchor="end" fill="#222" textLength="35.8" lengthAdjust="spacingAndGlyphs">7.5mins</text>
<line x1="602.60" y1="244.5" x2="602.60" y2="247.0" stroke="#727272" stroke-width="0.8"/>
<text transform="translate(605.90,246.1) rotate(-90)" font-size="9" text-anchor="end" fill="#222" textLength="32.2" lengthAdjust="spacingAndGlyphs">15mins</text>
<line x1="629.75" y1="244.5" x2="629.75" y2="247.0" stroke="#727272" stroke-width="0.8"/>
<text transform="translate(633.05,246.1) rotate(-90)" font-size="9" text-anchor="end" fill="#222" textLength="32.2" lengthAdjust="spacingAndGlyphs">30mins</text>
<line x1="656.90" y1="244.5" x2="656.90" y2="247.0" stroke="#727272" stroke-width="0.8"/>
<text transform="translate(660.20,246.1) rotate(-90)" font-size="9" text-anchor="end" fill="#222" textLength="32.2" lengthAdjust="spacingAndGlyphs">60mins</text>
</svg></body></html>
